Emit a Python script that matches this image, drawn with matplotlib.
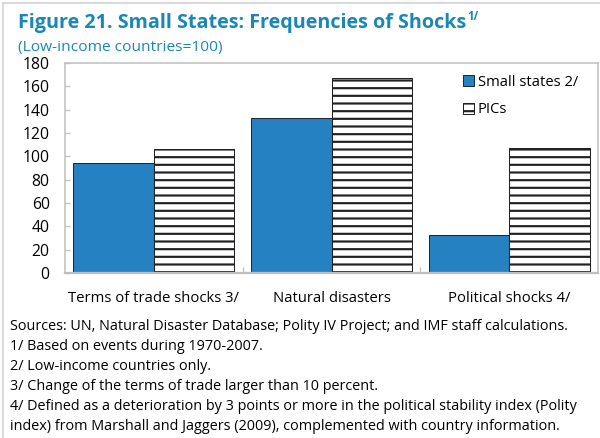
import matplotlib
matplotlib.use('Agg')
import matplotlib.pyplot as plt
import numpy as np
from matplotlib.lines import Line2D

plt.rcParams['font.family'] = ['Open Sans', 'DejaVu Sans']
plt.rcParams['hatch.linewidth'] = 1.7

categories = ['Terms of trade shocks 3/', 'Natural disasters', 'Political shocks 4/']
small_states = [94, 133, 33]
pics = [106, 167, 107]
yticks = [0, 20, 40, 60, 80, 100, 120, 140, 160, 180]

footnotes = [
    'Sources: UN, Natural Disaster Database; Polity IV Project; and IMF staff calculations.',
    '1/ Based on events during 1970-2007.',
    '2/ Low-income countries only.',
    '3/ Change of the terms of trade larger than 10 percent.',
    '4/ Defined as a deterioration by 3 points or more in the political stability index (Polity',
    'index) from Marshall and Jaggers (2009), complemented with country information.',
]

teal = '#1A87B5'
blue = '#2681C2'
grey = '#BFBFBF'

dpi = 92
fig = plt.figure(figsize=(600 / dpi, 438 / dpi), dpi=dpi)
ax = fig.add_axes([65 / 600, 1 - 273 / 438, 533 / 600, 210 / 438])

x = np.arange(len(categories))
w = 0.453
ax.bar(x - w / 2, small_states, w, color=blue, edgecolor='#1a2a3a', linewidth=0.8,
       label='Small states 2/')
ax.bar(x + w / 2, pics, w, color='white', edgecolor='#222222', linewidth=0.8,
       hatch='--', label='PICs')

ax.set_xlim(-0.5, 2.5)
ax.set_ylim(0, 180)
ax.set_yticks(yticks)
ax.set_xticks([0.5, 1.5])
ax.set_xticklabels([])
ax.tick_params(axis='x', direction='in', length=5, color=grey, width=1)
ax.tick_params(axis='y', direction='in', length=4, color=grey, width=1,
               labelsize=12.3, pad=12)
for s in ax.spines.values():
    s.set_color(grey)
    s.set_linewidth(1.2)
ax.spines['bottom'].set_linewidth(1.8)

for i, c in enumerate(categories):
    ax.text(i, -0.12, c, transform=ax.get_xaxis_transform(), ha='center',
            va='center', fontsize=11.7)

ax.legend(loc='upper right', bbox_to_anchor=(0.985, 1.0), frameon=False,
          handlelength=0.75, handleheight=0.75, handletextpad=0.3,
          labelspacing=0.85, fontsize=11.5, borderaxespad=0.4)

title = fig.text(18 / 600, 1 - 23 / 438, 'Figure 21. Small States: Frequencies of Shocks',
                 color=teal, fontsize=15.5, fontweight='bold', va='center', ha='left')
fig.canvas.draw()
bb = title.get_window_extent()
fig.text((bb.x1 + 1) / fig.bbox.width, 1 - 16 / 438, '1/', color=teal, fontsize=9,
         fontweight='bold', va='center', ha='left')
fig.text(18 / 600, 1 - 47 / 438, '(Low-income countries=100)', color=teal,
         fontsize=12.1, va='center', ha='left')

for i, line in enumerate(footnotes):
    fig.text(10 / 600, 1 - (326 + 20 * i) / 438, line, fontsize=11.3,
             va='center', ha='left')

fig.add_artist(Line2D([3 / 600, 3 / 600], [0, 1 - 3 / 438], color='#D0D0D0', lw=1.2))
fig.add_artist(Line2D([3 / 600, 1], [1 - 3 / 438, 1 - 3 / 438], color='#D0D0D0', lw=1.2))

fig.savefig('out.png', dpi=dpi)
